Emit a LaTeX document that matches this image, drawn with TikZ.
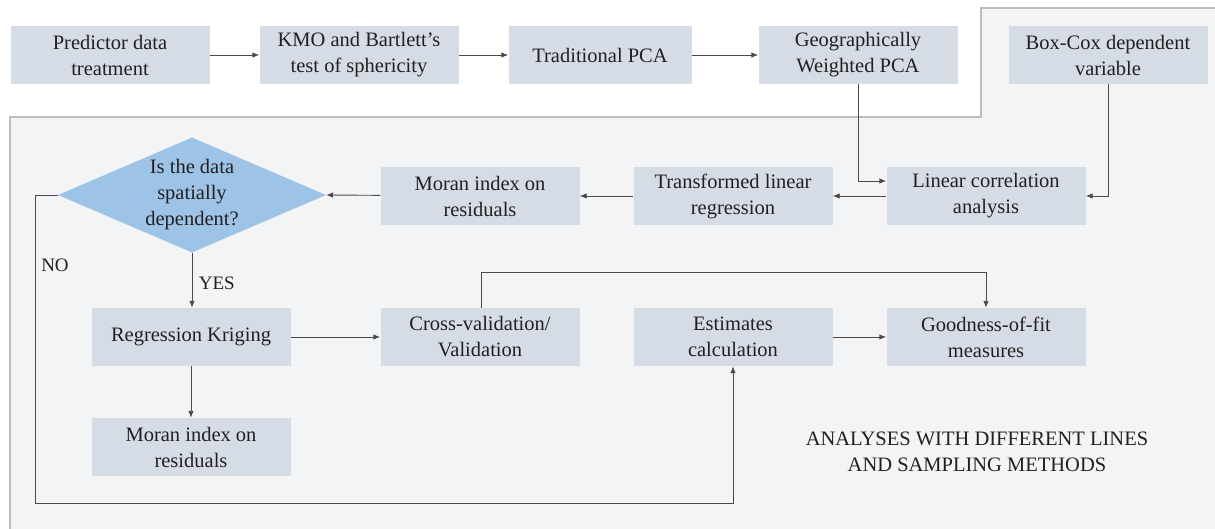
\documentclass[tikz,border=0pt]{standalone}
\usepackage{fontspec}
\setmainfont{Liberation Serif}
\usetikzlibrary{arrows.meta,shapes.geometric}
\definecolor{boxfill}{HTML}{D6DCE5}
\definecolor{dfill}{HTML}{9DC3E6}
\definecolor{bgfill}{HTML}{F3F4F6}
\definecolor{bgline}{HTML}{BDBDBD}
\definecolor{txt}{HTML}{231F20}
\definecolor{conn}{HTML}{4A4A4A}
\begin{document}
\begin{tikzpicture}[x=1pt,y=-1pt,
  every node/.style={text=txt,font=\fontsize{20.5}{26}\selectfont},
  procbox/.style={fill=boxfill,minimum width=199pt,minimum height=58pt,align=center,inner sep=0pt},
  decision/.style={diamond,fill=dfill,minimum width=268pt,minimum height=115pt,align=center,inner sep=0pt,aspect=2.33},
  conn/.style={draw=conn,line width=0.9pt,-{Latex[length=7pt,width=5.5pt]}},
  lbl/.style={font=\fontsize{19}{22}\selectfont}]
\useasboundingbox (0,0) rectangle (1215,529);
\fill[white] (0,0) rectangle (1215,529);
\draw[fill=bgfill,draw=bgline,line width=1.5pt] (10,535) -- (10,117) -- (981,117) -- (981,8) -- (1222,8) -- (1222,535) -- cycle;

% row 1
\node[procbox] (pred) at (110,55) {Predictor data\\treatment};
\node[procbox] (kmo) at (359,55) {KMO and Bartlett's\\test of sphericity};
\node[procbox,minimum width=183pt] (tpca) at (600,55) {Traditional PCA};
\node[procbox] (gwpca) at (858,55) {Geographically\\Weighted PCA};
\node[procbox] (boxcox) at (1108,55) {Box-Cox dependent\\variable};

% row 2
\node[decision] (dec) at (192,195) {Is the data\\spatially\\dependent?};
\node[procbox] (moran1) at (480,196) {Moran index on\\residuals};
\node[procbox] (tlr) at (733,196) {Transformed linear\\regression};
\node[procbox] (lca) at (986,196) {Linear correlation\\analysis};

% row 3
\node[procbox] (rk) at (191,337) {Regression Kriging};
\node[procbox] (cv) at (480,337) {Cross-validation/\\Validation};
\node[procbox] (est) at (733,337) {Estimates\\calculation};
\node[procbox] (gof) at (986,337) {Goodness-of-fit\\measures};

% row 4
\node[procbox] (moran2) at (191,447) {Moran index on\\residuals};

\node[align=center] (note) at (977,452) {ANALYSES WITH DIFFERENT LINES\\AND SAMPLING METHODS};

\coordinate (gwc) at (858,181);
\coordinate (bcc) at (1108,196);
\coordinate (nl) at (35,195);
\coordinate (nb) at (35,503);
\coordinate (eb) at (733,503);
\coordinate (cvt) at (481,272);
\coordinate (gt) at (986,272);

\draw[conn] (pred) -- (kmo);
\draw[conn] (kmo) -- (tpca);
\draw[conn] (tpca) -- (gwpca);
\draw[conn] (gwpca.south -| gwc) -- (gwc) -- (lca.west |- gwc);
\draw[conn] (boxcox.south -| bcc) -- (bcc) -- (lca.east);
\draw[conn] (lca) -- (tlr);
\draw[conn] (tlr) -- (moran1);
\draw[conn] (moran1) -- (dec.east);
\draw[conn] (dec.west) -- (nl) -- (nb) -- (eb) -- (est.south);
\draw[conn] (dec.south) -- (rk.north -| dec.south) node[pos=0.55,right,lbl,xshift=3pt] {YES};
\node[lbl] (no) at (55,265) {NO};
\draw[conn] (rk) -- (cv);
\draw[conn] (rk.south) -- (moran2.north);
\draw[conn] (cv.north -| cvt) -- (cvt) -- (gt) -- (gof.north);
\draw[conn] (est) -- (gof);
\end{tikzpicture}
\end{document}
